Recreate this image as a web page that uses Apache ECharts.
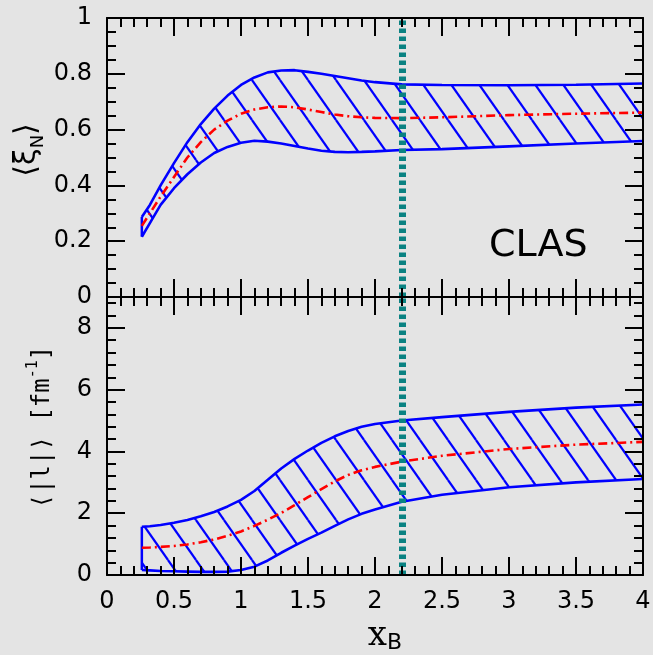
<!DOCTYPE html>
<html>
<head>
<meta charset="utf-8">
<script src="https://cdn.jsdelivr.net/npm/echarts@6/dist/echarts.min.js"></script>
<style>
  html, body { margin: 0; padding: 0; background: #e4e4e4; }
  #chart { width: 653px; height: 655px; }
</style>
</head>
<body>
<div id="chart"></div>
<script>
// Bjorken-x sample points shared by every curve
const xB = [0.26, 0.32, 0.40, 0.50, 0.60, 0.70, 0.80, 0.90, 1.00, 1.10, 1.20, 1.30,
            1.40, 1.50, 1.60, 1.70, 1.80, 1.90, 2.00, 2.20, 2.50, 3.00, 3.50, 4.00];

// <xi_N>: band limits and central curve
const xiUpper   = [0.287, 0.330, 0.400, 0.480, 0.555, 0.620, 0.675, 0.722, 0.760, 0.787, 0.805, 0.812,
                   0.813, 0.807, 0.800, 0.792, 0.784, 0.776, 0.770, 0.762, 0.760, 0.759, 0.761, 0.765];
const xiLower   = [0.216, 0.265, 0.330, 0.390, 0.440, 0.482, 0.516, 0.538, 0.553, 0.560, 0.557, 0.550,
                   0.541, 0.532, 0.524, 0.520, 0.519, 0.520, 0.522, 0.527, 0.530, 0.540, 0.550, 0.559];
const xiCentral = [0.255, 0.300, 0.360, 0.430, 0.500, 0.555, 0.600, 0.632, 0.657, 0.672, 0.680, 0.683,
                   0.680, 0.672, 0.663, 0.654, 0.648, 0.644, 0.642, 0.641, 0.644, 0.652, 0.657, 0.661];

// <|l|> in fm^-1: band limits and central curve
const lUpper   = [1.56, 1.58, 1.62, 1.69, 1.78, 1.90, 2.04, 2.22, 2.43, 2.72, 3.08, 3.45,
                  3.76, 4.03, 4.28, 4.49, 4.66, 4.80, 4.89, 5.00, 5.11, 5.28, 5.42, 5.52];
const lLower   = [0.16, 0.15, 0.13, 0.12, 0.11, 0.10, 0.10, 0.11, 0.16, 0.27, 0.47, 0.72,
                  0.95, 1.17, 1.37, 1.59, 1.80, 1.98, 2.12, 2.37, 2.60, 2.84, 3.00, 3.11];
const lCentral = [0.88, 0.89, 0.91, 0.94, 0.99, 1.06, 1.15, 1.27, 1.41, 1.59, 1.79, 2.01,
                  2.26, 2.52, 2.78, 3.03, 3.24, 3.39, 3.50, 3.67, 3.86, 4.08, 4.22, 4.31];

// axis ranges and tick steps
const xRange   = { min: 0, max: 4, step: 0.5, minorSplit: 5 };
const xiRange  = { min: 0, max: 1, step: 0.2, minorSplit: 4 };
const lRange   = { min: 0, max: 9, step: 2, minorStep: 0.4 };
const cutX = 2.2;

const BLUE = '#0000ff', RED = '#ff0000', TEAL = '#0a8282', BLACK = '#000';
const NUM_FONT = 'DejaVu Sans';

// diagonal hatch tile used to fill the bands
const hatchCanvas = document.createElement('canvas');
hatchCanvas.width = 28;
hatchCanvas.height = 40;
(function () {
  const c = hatchCanvas.getContext('2d');
  const w = hatchCanvas.width, h = hatchCanvas.height;
  c.strokeStyle = BLUE;
  c.lineWidth = 2.2;
  for (let i = -1; i <= 1; i++) {
    for (let j = -1; j <= 1; j++) {
      c.beginPath();
      c.moveTo(i * w, j * h);
      c.lineTo(i * w + w, j * h + h);
      c.stroke();
    }
  }
})();
const hatch = { image: hatchCanvas, repeat: 'repeat' };

const pairs = (xs, ys) => xs.map((x, i) => [x, ys[i]]);

function frameAxis(o) {
  return {
    type: 'value',
    gridIndex: o.grid,
    position: o.position,
    min: o.min, max: o.max, interval: o.interval,
    z: 10,
    axisLine: { show: o.line !== false, onZero: false, lineStyle: { color: BLACK, width: 2 } },
    axisTick: { show: true, inside: true, length: o.tickLen || 18, lineStyle: { color: BLACK, width: 2 } },
    minorTick: { show: !!o.minorSplit, splitNumber: o.minorSplit || 5, length: 9,
                 lineStyle: { color: BLACK, width: 2 } },
    splitLine: { show: false },
    minorSplitLine: { show: false },
    axisLabel: {
      show: !!o.labels, color: BLACK, fontFamily: NUM_FONT, fontSize: 24, margin: 15,
      formatter: o.formatter
    }
  };
}

// hatched band between lower and upper curves
function bandSeries(xIdx, yIdx, upper, lower) {
  return {
    type: 'custom',
    coordinateSystem: 'cartesian2d',
    xAxisIndex: xIdx, yAxisIndex: yIdx,
    silent: true, z: 1,
    data: [[xB[0], lower[0]]],
    renderItem: function (params, api) {
      const top = xB.map((x, i) => api.coord([x, upper[i]]));
      const bottom = xB.map((x, i) => api.coord([x, lower[i]])).reverse();
      return {
        type: 'polygon',
        shape: { points: top.concat(bottom) },
        style: { fill: hatch, stroke: null }
      };
    }
  };
}

function curve(xIdx, yIdx, ys, color, width, dash, z) {
  return {
    type: 'line', xAxisIndex: xIdx, yAxisIndex: yIdx,
    data: pairs(xB, ys), symbol: 'none', silent: true, z: z || 3,
    lineStyle: { color: color, width: width, type: dash || 'solid' }
  };
}

function edge(xIdx, yIdx, upper, lower) {
  return {
    type: 'line', xAxisIndex: xIdx, yAxisIndex: yIdx,
    data: [[xB[0], lower[0]], [xB[0], upper[0]]], symbol: 'none', silent: true, z: 3,
    lineStyle: { color: BLUE, width: 2.5 }
  };
}

function cutMark(xIdx, yIdx) {
  return {
    type: 'line', xAxisIndex: xIdx, yAxisIndex: yIdx, data: [], silent: true, z: 6,
    markLine: {
      silent: true, symbol: ['none', 'none'], label: { show: false }, animation: false,
      lineStyle: { color: TEAL, width: 7, type: [4.5, 3.5] },
      data: [{ xAxis: cutX }]
    }
  };
}

const chart = echarts.init(document.getElementById('chart'), null, { renderer: 'canvas' });

chart.setOption({
  animation: false,
  backgroundColor: '#e4e4e4',
  grid: [
    { left: 107, top: 18, width: 536, height: 279, containLabel: false, outerBoundsMode: 'none' },
    { left: 107, top: 297, width: 536, height: 278, containLabel: false, outerBoundsMode: 'none' }
  ],
  xAxis: [
    frameAxis({ grid: 0, position: 'bottom', min: xRange.min, max: xRange.max, interval: xRange.step, minorSplit: xRange.minorSplit }),
    frameAxis({ grid: 0, position: 'top', min: xRange.min, max: xRange.max, interval: xRange.step, minorSplit: xRange.minorSplit }),
    frameAxis({ grid: 1, position: 'bottom', min: xRange.min, max: xRange.max, interval: xRange.step, minorSplit: xRange.minorSplit, labels: true }),
    frameAxis({ grid: 1, position: 'top', min: xRange.min, max: xRange.max, interval: xRange.step, minorSplit: xRange.minorSplit })
  ],
  yAxis: [
    frameAxis({ grid: 0, position: 'left', min: xiRange.min, max: xiRange.max, interval: xiRange.step, minorSplit: xiRange.minorSplit, labels: true }),
    frameAxis({ grid: 0, position: 'right', min: xiRange.min, max: xiRange.max, interval: xiRange.step, minorSplit: xiRange.minorSplit }),
    frameAxis({ grid: 1, position: 'left', min: lRange.min, max: lRange.max, interval: lRange.step, labels: true,
                formatter: v => (Math.abs(v % lRange.step) < 1e-9 ? String(v) : '') }),
    frameAxis({ grid: 1, position: 'right', min: lRange.min, max: lRange.max, interval: lRange.step }),
    frameAxis({ grid: 1, position: 'left', min: lRange.min, max: lRange.max, interval: lRange.minorStep, line: false, tickLen: 9 }),
    frameAxis({ grid: 1, position: 'right', min: lRange.min, max: lRange.max, interval: lRange.minorStep, line: false, tickLen: 9 })
  ],
  series: [
    // upper panel: <xi_N>
    bandSeries(0, 0, xiUpper, xiLower),
    curve(0, 0, xiUpper, BLUE, 2.6),
    curve(0, 0, xiLower, BLUE, 2.6),
    edge(0, 0, xiUpper, xiLower),
    curve(0, 0, xiCentral, RED, 2.6, [9, 4, 2, 4], 4),
    cutMark(0, 0),
    // lower panel: <|l|>
    bandSeries(2, 2, lUpper, lLower),
    curve(2, 2, lUpper, BLUE, 2.6),
    curve(2, 2, lLower, BLUE, 2.6),
    edge(2, 2, lUpper, lLower),
    curve(2, 2, lCentral, RED, 2.6, [9, 4, 2, 4], 4),
    cutMark(2, 2)
  ],
  graphic: [
    {
      type: 'text', x: 27, y: 150, rotation: Math.PI / 2, silent: true,
      style: {
        text: '{a|⟨ξ}{s|N}{a|⟩}',
        align: 'center', verticalAlign: 'middle', textAlign: 'center', textVerticalAlign: 'middle',
        rich: {
          a: { fontFamily: 'DejaVu Sans', fontSize: 30, lineHeight: 40, fill: BLACK },
          s: { fontFamily: 'DejaVu Sans', fontSize: 18, verticalAlign: 'bottom', fill: BLACK }
        }
      }
    },
    {
      type: 'text', x: 43, y: 427, rotation: Math.PI / 2, silent: true,
      style: {
        text: '{a|⟨|l|⟩ [fm}{p|-1}{a|]}',
        align: 'center', verticalAlign: 'middle', textAlign: 'center', textVerticalAlign: 'middle',
        rich: {
          a: { fontFamily: 'DejaVu Sans Mono', fontSize: 24, lineHeight: 34, fill: BLACK },
          p: { fontFamily: 'DejaVu Sans Mono', fontSize: 15, verticalAlign: 'top', fill: BLACK }
        }
      }
    },
    {
      type: 'text', x: 385, y: 636, silent: true,
      style: {
        text: '{a|x}{s|B}',
        align: 'center', verticalAlign: 'middle', textAlign: 'center', textVerticalAlign: 'middle',
        rich: {
          a: { fontFamily: 'DejaVu Serif', fontSize: 34, lineHeight: 36, fill: BLACK },
          s: { fontFamily: 'DejaVu Sans', fontSize: 22, verticalAlign: 'bottom', fill: BLACK }
        }
      }
    },
    {
      type: 'text', x: 489, y: 246, silent: true,
      style: {
        text: 'CLAS', fill: BLACK, fontFamily: 'DejaVu Sans', fontSize: 38,
        align: 'left', verticalAlign: 'middle', textAlign: 'left', textVerticalAlign: 'middle'
      }
    }
  ]
});
</script>
</body>
</html>
